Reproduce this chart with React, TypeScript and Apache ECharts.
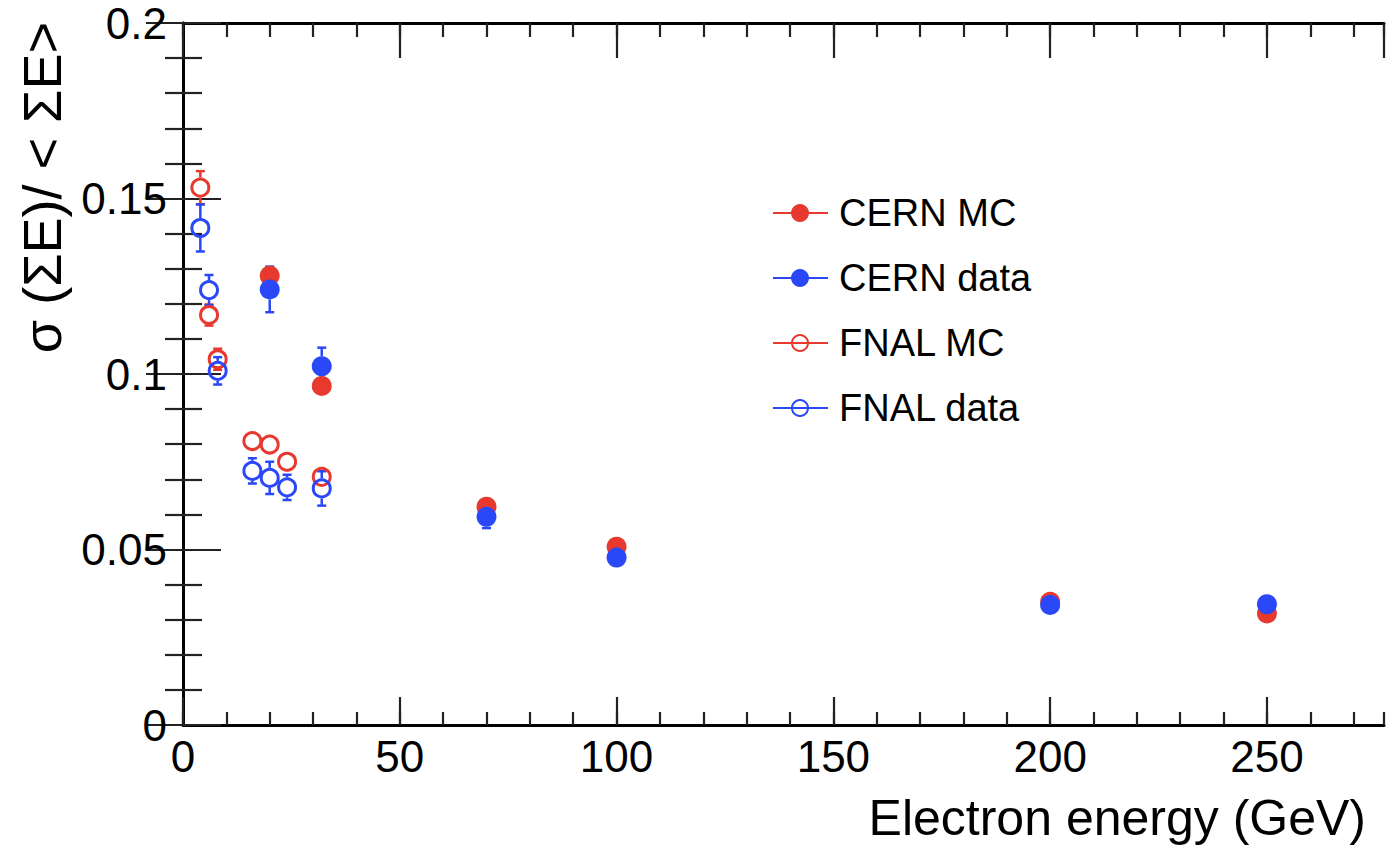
import React, { useEffect, useRef } from "react";
import * as echarts from "echarts";

// ---- data ----
const cernMcX = [20, 32, 70, 100, 200, 250];
const cernMcY = [0.128, 0.0966, 0.0622, 0.0508, 0.0351, 0.0318];
const cernMcErr = [0.0015, 0.0015, 0.001, 0.001, 0.001, 0.001];

const cernDataX = [20, 32, 70, 100, 200, 250];
const cernDataY = [0.1241, 0.1022, 0.0593, 0.0477, 0.0342, 0.0344];
const cernDataErr = [0.0065, 0.0053, 0.0032, 0.0015, 0.001, 0.001];

const fnalMcX = [4, 6, 8, 16, 20, 24, 32];
const fnalMcY = [0.1531, 0.1168, 0.1042, 0.0809, 0.0799, 0.075, 0.0707];
const fnalMcErr = [0.0047, 0.003, 0.003, 0.0015, 0.0015, 0.0015, 0.0015];

const fnalDataX = [4, 6, 8, 16, 20, 24, 32];
const fnalDataY = [0.1416, 0.1239, 0.1009, 0.0724, 0.0704, 0.0677, 0.0674];
const fnalDataErr = [0.0067, 0.0043, 0.0039, 0.0036, 0.0046, 0.0036, 0.0049];

const yTickLabels: Record<string, string> = {
  "0": "0",
  "0.05": "0.05",
  "0.1": "0.1",
  "0.15": "0.15",
  "0.2": "0.2",
};

const seriesNames = ["CERN MC", "CERN data", "FNAL MC", "FNAL data"];
const xTitle = "Electron energy (GeV)";
const yTitle = "σ (ΣE)/ < ΣE>";

const RED = "#e8392e";
const BLUE = "#2a48f8";
const FONT = "'Liberation Sans', Arial, Helvetica, sans-serif";

function pts(xs: number[], ys: number[], es: number[]) {
  return xs.map((x, i) => [x, ys[i], es[i]]);
}

function errSeries(name: string, data: number[][], color: string, r: number) {
  return {
    type: "custom",
    name: name + " err",
    xAxisIndex: 0,
    yAxisIndex: 0,
    data,
    silent: true,
    renderItem: (params: any, api: any) => {
      const x = api.value(0);
      const y = api.value(1);
      const e = api.value(2);
      const c = api.coord([x, y]);
      const t = api.coord([x, y + e]);
      const b = api.coord([x, y - e]);
      const children: any[] = [];
      const st = { stroke: color, lineWidth: 2.5 };
      if (c[1] - t[1] > r) {
        children.push({ type: "line", shape: { x1: c[0], y1: c[1] - r, x2: c[0], y2: t[1] }, style: st });
        children.push({ type: "line", shape: { x1: c[0] - 4.5, y1: t[1], x2: c[0] + 4.5, y2: t[1] }, style: st });
      }
      if (b[1] - c[1] > r) {
        children.push({ type: "line", shape: { x1: c[0], y1: c[1] + r, x2: c[0], y2: b[1] }, style: st });
        children.push({ type: "line", shape: { x1: c[0] - 4.5, y1: b[1], x2: c[0] + 4.5, y2: b[1] }, style: st });
      }
      return { type: "group", children };
    },
    z: 3,
  };
}

function scatter(name: string, data: number[][], color: string, open: boolean) {
  return {
    type: "scatter",
    name,
    xAxisIndex: 0,
    yAxisIndex: 0,
    data: data.map((d) => [d[0], d[1]]),
    symbol: "circle",
    symbolSize: open ? 17 : 20,
    itemStyle: open
      ? { color: "rgba(0,0,0,0)", borderColor: color, borderWidth: 3, opacity: 1 }
      : { color, opacity: 1 },
    z: 4,
  };
}

export default function App() {
  const ref = useRef<HTMLDivElement>(null);
  useEffect(() => {
    if (!ref.current) return;
    const chart = echarts.init(ref.current, null, { renderer: "svg" });
    const axisLine = { show: true, lineStyle: { color: "#000", width: 3 } };
    const tickStyle = { color: "#222", width: 2.2 };
    const xCommon = { type: "value", min: 0, max: 277, splitLine: { show: false } };

    const legendColors = [RED, BLUE, RED, BLUE];
    const legendOpen = [false, false, true, true];
    const legendRows = [213, 278, 343, 408];
    const legendGraphics: any[] = [];
    seriesNames.forEach((n, i) => {
      const y = legendRows[i];
      legendGraphics.push({
        type: "line",
        shape: { x1: 773, y1: y, x2: 828, y2: y },
        style: { stroke: legendColors[i], lineWidth: 2 },
      });
      legendGraphics.push({
        type: "circle",
        shape: { cx: 800, cy: y, r: legendOpen[i] ? 8 : 9 },
        style: legendOpen[i]
          ? { fill: "none", stroke: legendColors[i], lineWidth: 2 }
          : { fill: legendColors[i] },
      });
      legendGraphics.push({
        type: "text",
        x: 839,
        y,
        style: {
          text: n,
          fontSize: 38,
          fontFamily: FONT,
          fill: "#000",
          textVerticalAlign: "middle",
          verticalAlign: "middle",
          textAlign: "left",
          align: "left",
        },
      });
    });

    const option: any = {
      animation: false,
      backgroundColor: "#fff",
      grid: { left: 183, right: 4, top: 23, bottom: 126, containLabel: false, outerBoundsMode: "none" },
      xAxis: [
        {
          ...xCommon,
          position: "bottom",
          interval: 50,
          axisLine,
          axisTick: { show: true, inside: true, length: 28, lineStyle: tickStyle },
          axisLabel: {
            show: true,
            fontSize: 44,
            fontFamily: FONT,
            color: "#000",
            margin: 9,
            showMaxLabel: false,
            formatter: (v: number) => (v % 50 === 0 ? String(v) : ""),
          },
        },
        {
          ...xCommon,
          position: "bottom",
          interval: 10,
          axisLine: { show: false },
          axisTick: { show: true, inside: true, length: 13, lineStyle: tickStyle },
          axisLabel: { show: false },
        },
        {
          ...xCommon,
          position: "top",
          interval: 50,
          axisLine,
          axisTick: { show: true, inside: true, length: 35, lineStyle: tickStyle },
          axisLabel: { show: false },
        },
        {
          ...xCommon,
          position: "top",
          interval: 10,
          axisLine: { show: false },
          axisTick: { show: true, inside: true, length: 14, lineStyle: tickStyle },
          axisLabel: { show: false },
        },
      ],
      yAxis: [
        {
          type: "value",
          position: "left",
          min: 0,
          max: 0.2,
          interval: 0.05,
          splitLine: { show: false },
          axisLine,
          axisTick: { show: true, inside: true, length: 38, lineStyle: tickStyle },
          minorTick: { show: true, splitNumber: 5, length: 19, lineStyle: tickStyle },
          axisLabel: {
            show: true,
            fontSize: 44,
            fontFamily: FONT,
            color: "#000",
            margin: 16,
            formatter: (v: number) => yTickLabels[String(+v.toFixed(2))] ?? "",
          },
        },
        {
          type: "value",
          position: "right",
          min: 0,
          max: 0.2,
          interval: 0.05,
          splitLine: { show: false },
          axisLine,
          axisTick: { show: true, inside: true, length: 37, lineStyle: tickStyle },
          minorTick: { show: true, splitNumber: 5, length: 18, lineStyle: tickStyle },
          axisLabel: { show: false },
        },
      ],
      graphic: [
        {
          type: "text",
          x: 1366,
          y: 818,
          style: {
            text: xTitle,
            fontSize: 50,
            fontFamily: FONT,
            fill: "#000",
            textAlign: "right",
            align: "right",
            textVerticalAlign: "middle",
            verticalAlign: "middle",
          },
        },
        {
          type: "text",
          x: 42,
          y: 22,
          rotation: Math.PI / 2,
          style: {
            text: yTitle,
            fontSize: 54,
            fontFamily: FONT,
            fill: "#000",
            textAlign: "right",
            align: "right",
            textVerticalAlign: "middle",
            verticalAlign: "middle",
          },
        },
        ...legendGraphics,
      ],
      series: [
        errSeries(seriesNames[0], pts(cernMcX, cernMcY, cernMcErr), RED, 10),
        scatter(seriesNames[0], pts(cernMcX, cernMcY, cernMcErr), RED, false),
        errSeries(seriesNames[1], pts(cernDataX, cernDataY, cernDataErr), BLUE, 10),
        scatter(seriesNames[1], pts(cernDataX, cernDataY, cernDataErr), BLUE, false),
        errSeries(seriesNames[2], pts(fnalMcX, fnalMcY, fnalMcErr), RED, 10),
        scatter(seriesNames[2], pts(fnalMcX, fnalMcY, fnalMcErr), RED, true),
        errSeries(seriesNames[3], pts(fnalDataX, fnalDataY, fnalDataErr), BLUE, 10),
        scatter(seriesNames[3], pts(fnalDataX, fnalDataY, fnalDataErr), BLUE, true),
      ],
    };
    chart.setOption(option);
    return () => chart.dispose();
  }, []);
  return (
    <div
      ref={ref}
      style={{ position: "fixed", left: 0, top: 0, width: 1388, height: 851, background: "#fff" }}
    />
  );
}
